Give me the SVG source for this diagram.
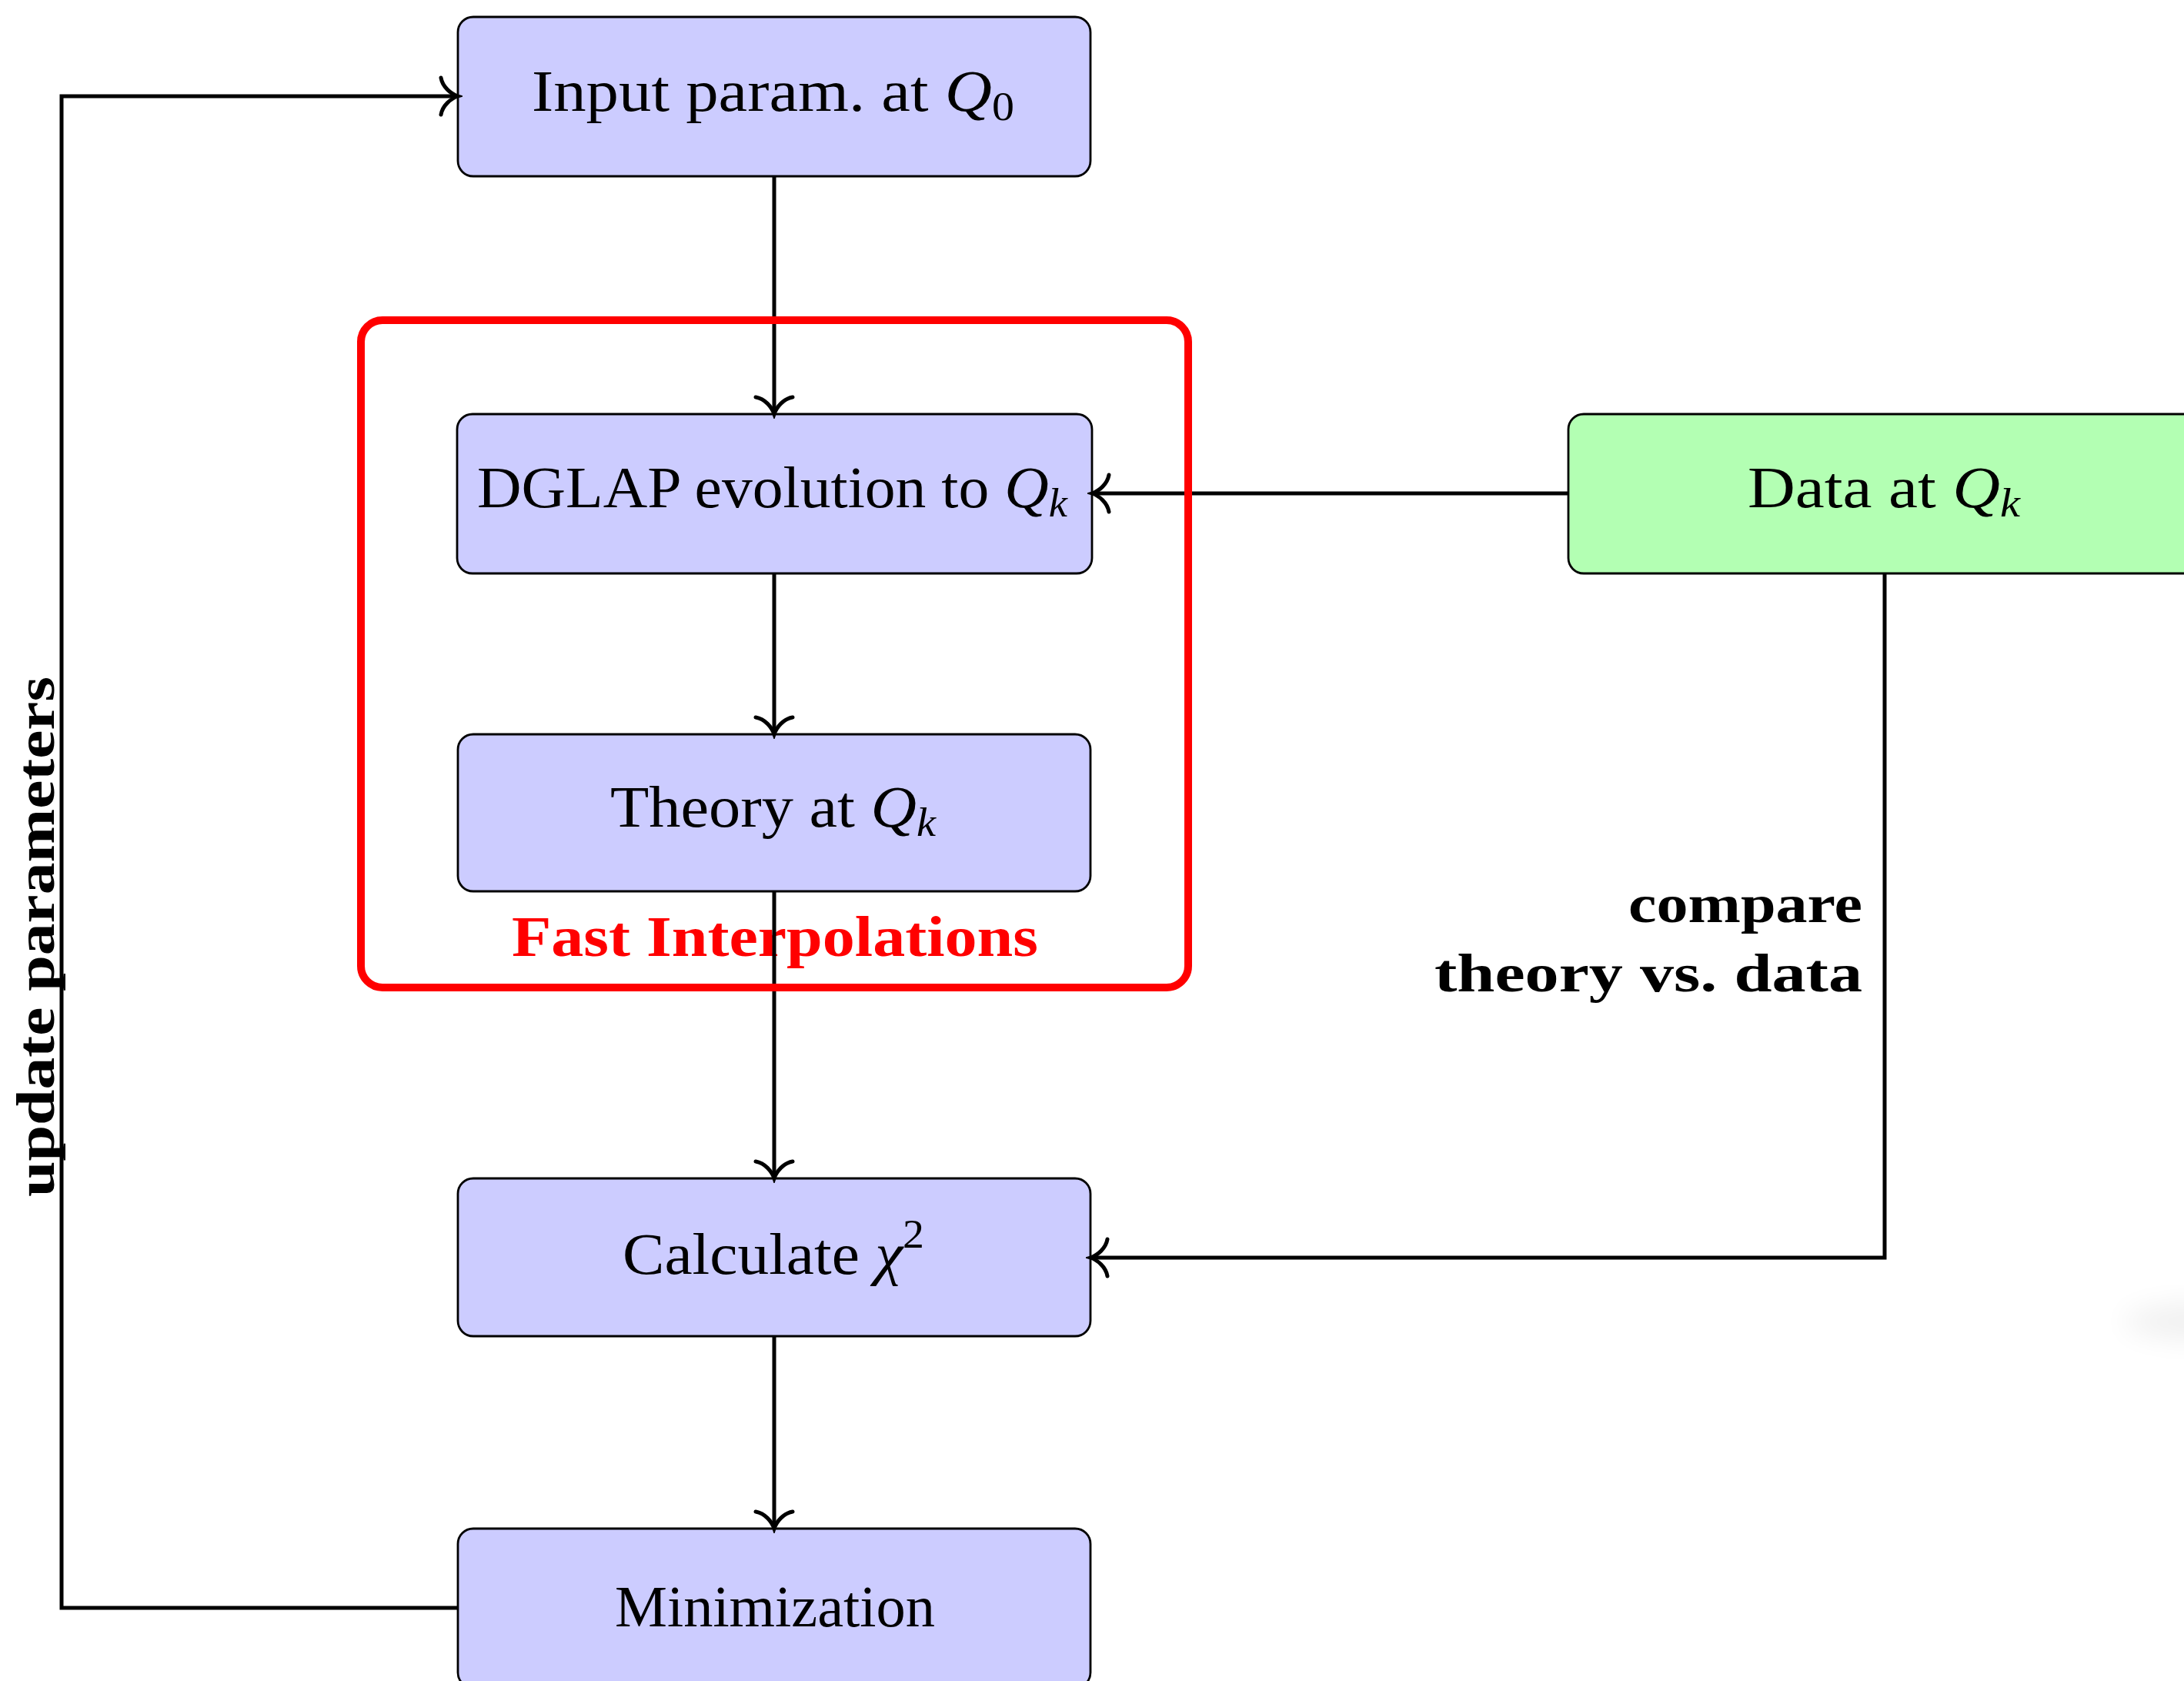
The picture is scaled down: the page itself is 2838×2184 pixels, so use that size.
<svg xmlns="http://www.w3.org/2000/svg" width="2838" height="2184" viewBox="0 0 2838 2184">
<style>
.box{stroke:#000;stroke-width:2.8}
.blue{fill:#CCCCFF}
.green{fill:#B3FFB3}
.t{font-family:"Liberation Serif","Times New Roman",serif;font-size:76px;fill:#000;text-anchor:middle}
.b{font-family:"Liberation Serif","Times New Roman",serif;font-weight:bold;font-size:70px;fill:#000}
.m{font-style:italic}
.conn{fill:none;stroke:#000;stroke-width:5}
</style>
<defs>
<marker id="arr" markerUnits="userSpaceOnUse" viewBox="-30 -30 36 60" refX="0" refY="0" markerWidth="36" markerHeight="60" orient="auto">
<path d="M -22,-24 C -20,-12 -9,-3 0,0 C -9,3 -20,12 -22,24" fill="none" stroke="#000" stroke-width="5" stroke-linecap="round"/>
</marker>
<filter id="blur" x="-50%" y="-50%" width="200%" height="200%"><feGaussianBlur stdDeviation="18"/></filter>
</defs>
<rect width="2838" height="2184" fill="#fff"/>
<ellipse cx="2870" cy="1717" rx="110" ry="24" fill="#000" opacity="0.06" filter="url(#blur)"/>

<g id="fast-label">
<text x="1007" y="1242" font-family="Liberation Serif, serif" font-weight="bold" font-size="74" fill="#FF0000" text-anchor="middle" textLength="684" lengthAdjust="spacingAndGlyphs">Fast Interpolations</text>
</g>

<g id="input">
<rect class="box blue" x="595" y="22" width="822" height="207" rx="20"/>
<text class="t" x="1004.5" y="144" textLength="627" lengthAdjust="spacingAndGlyphs">Input param. at <tspan class="m">Q</tspan><tspan font-size="52" dy="12">0</tspan></text>
</g>
<g id="dglap">
<rect class="box blue" x="594" y="538" width="825" height="207" rx="20"/>
<text class="t" x="1003.5" y="659" textLength="767" lengthAdjust="spacingAndGlyphs">DGLAP evolution to <tspan class="m">Q</tspan><tspan class="m" font-size="52" dy="12">k</tspan></text>
</g>
<g id="theory">
<rect class="box blue" x="595" y="954" width="822" height="204" rx="20"/>
<text class="t" x="1004.5" y="1074" textLength="423" lengthAdjust="spacingAndGlyphs">Theory at <tspan class="m">Q</tspan><tspan class="m" font-size="52" dy="12">k</tspan></text>
</g>
<g id="calc">
<rect class="box blue" x="595" y="1531" width="822" height="205" rx="20"/>
<text class="t" x="1005" y="1655" textLength="392" lengthAdjust="spacingAndGlyphs">Calculate <tspan class="m">χ</tspan><tspan font-size="52" dy="-34">2</tspan></text>
</g>
<g id="minim">
<rect class="box blue" x="595" y="1986" width="822" height="207" rx="20"/>
<text class="t" x="1007" y="2113" textLength="416" lengthAdjust="spacingAndGlyphs">Minimization</text>
</g>
<g id="data">
<rect class="box green" x="2038" y="538" width="840" height="207" rx="20"/>
<text class="t" x="2448" y="659" textLength="354" lengthAdjust="spacingAndGlyphs">Data at <tspan class="m">Q</tspan><tspan class="m" font-size="52" dy="12">k</tspan></text>
</g>

<g id="labels">
<text class="b" x="2420" y="1198" text-anchor="end" textLength="304" lengthAdjust="spacingAndGlyphs">compare</text>
<text class="b" x="2420" y="1288" text-anchor="end" textLength="556" lengthAdjust="spacingAndGlyphs">theory vs. data</text>
<text class="b" transform="translate(70,1217) rotate(-90)" x="0" y="0" text-anchor="middle" textLength="676" lengthAdjust="spacingAndGlyphs">update parameters</text>
</g>

<g id="connectors">
<path class="conn" d="M1006,229 V538" marker-end="url(#arr)"/>
<path class="conn" d="M1006,745 V954" marker-end="url(#arr)"/>
<path class="conn" d="M1006,1158 V1531" marker-end="url(#arr)"/>
<path class="conn" d="M1006,1736 V1986" marker-end="url(#arr)"/>
<path class="conn" d="M2038,641 H1419" marker-end="url(#arr)"/>
<path class="conn" d="M2449,745 V1634 H1417" marker-end="url(#arr)"/>
<path class="conn" d="M595,2089 H80 V125 H595" marker-end="url(#arr)"/>
</g>

<g id="fast-interpolations">
<rect x="469" y="416" width="1075" height="867" rx="28" fill="none" stroke="#FF0000" stroke-width="10"/>
</g>
</svg>
